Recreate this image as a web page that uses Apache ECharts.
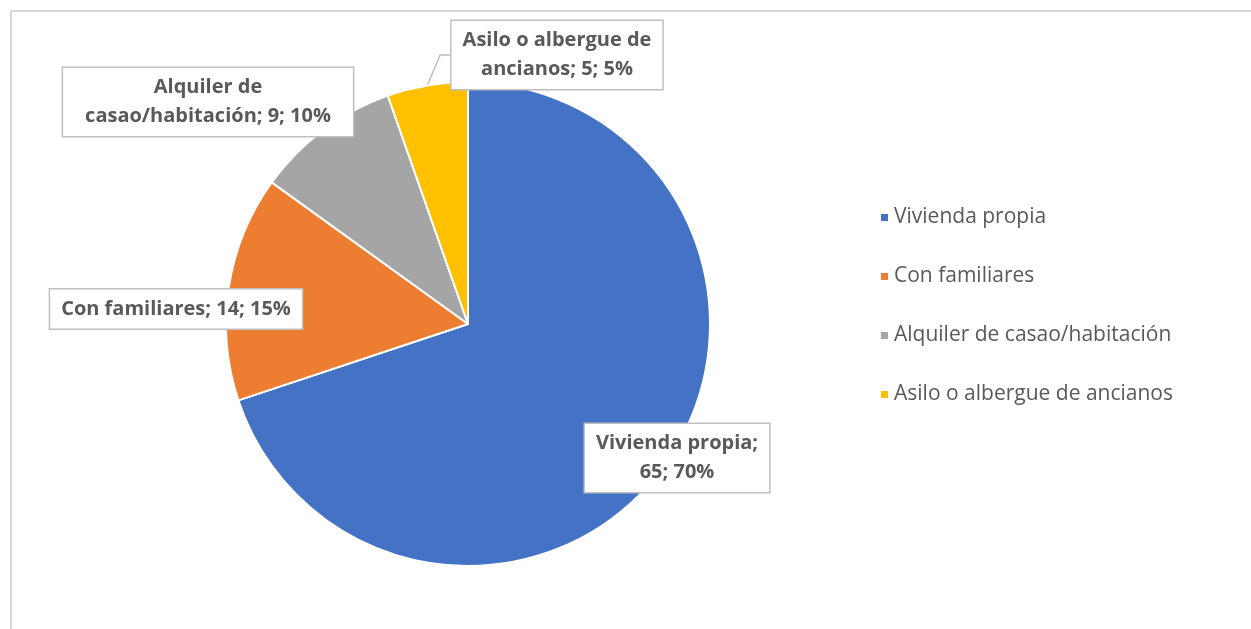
<!DOCTYPE html>
<html>
<head>
<meta charset="utf-8">
<script src="https://cdn.jsdelivr.net/npm/echarts@6/dist/echarts.min.js"></script>
<style>
html,body{margin:0;padding:0;background:#fff;}
#frame{position:absolute;left:10px;top:10px;width:1241px;height:619px;border-top:2px solid #d9d9d9;border-left:2px solid #d9d9d9;box-sizing:border-box;}
#chart{position:absolute;left:0;top:0;width:1251px;height:629px;}
</style>
</head>
<body>
<div id="frame"></div>
<div id="chart"></div>
<script>
const categories = ['Vivienda propia', 'Con familiares', 'Alquiler de casao/habitación', 'Asilo o albergue de ancianos'];
const values = [65, 14, 9, 5];
const colors = ['#4472C4', '#ED7D31', '#A5A5A5', '#FFC000'];
const labelFirstLine = ['Vivienda propia;', null, 'Alquiler de', 'Asilo o albergue de'];
const labelCenters = [[677, 458], [176, 309], [208, 102], [557, 55]];
const labelSidePadding = [11, 11, 22, 11];

const total = values.reduce((a, b) => a + b, 0);
const chart = echarts.init(document.getElementById('chart'));
chart.setOption({
  animation: false,
  color: colors,
  legend: {
    orient: 'vertical',
    left: 874,
    top: 202,
    icon: 'rect',
    itemWidth: 9,
    itemHeight: 9,
    itemGap: 38,
    textStyle: { color: '#595959', fontSize: 21, fontFamily: 'Open Sans', padding: [0, 0, 0, 0] },
    data: categories
  },
  series: [{
    type: 'pie',
    center: [468, 324],
    radius: 242,
    startAngle: 90,
    clockwise: true,
    avoidLabelOverlap: false,
    itemStyle: { borderColor: '#fff', borderWidth: 2 },
    label: {
      show: true,
      position: 'outside',
      color: '#595959',
      fontSize: 20,
      fontWeight: 'bold',
      fontFamily: 'Open Sans',
      lineHeight: 29,
      backgroundColor: '#fff',
      borderColor: '#bfbfbf',
      borderWidth: 1.5,
      padding: [5, 10, 5, 10],
      formatter: function (p) {
        const pct = Math.round(p.value / total * 100);
        const full = p.name + '; ' + p.value + '; ' + pct + '%';
        const first = labelFirstLine[p.dataIndex];
        if (first && full.indexOf(first) === 0) {
          return first + '\n' + full.slice(first.length).trim();
        }
        return full;
      }
    },
    labelLine: { show: false },
    labelLayout: function (params) {
      const c = labelCenters[params.dataIndex];
      return { x: c[0], y: c[1], align: 'center', verticalAlign: 'middle' };
    },
    data: categories.map((n, i) => ({
      name: n,
      value: values[i],
      label: { padding: [5, labelSidePadding[i], 5, labelSidePadding[i]] },
      labelLine: i === 3 ? { show: true, length: 10, length2: 10, lineStyle: { color: '#bfbfbf', width: 1.5 } } : undefined
    }))
  }]
});
</script>
</body>
</html>
